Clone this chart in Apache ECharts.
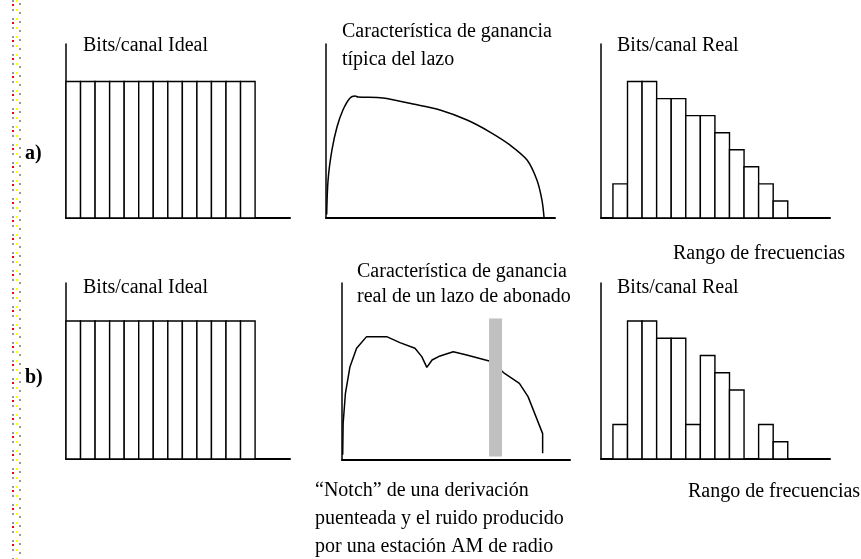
<!DOCTYPE html>
<html>
<head>
<meta charset="utf-8">
<script src="https://cdn.jsdelivr.net/npm/echarts@6/dist/echarts.min.js"></script>
<style>
  html, body { margin: 0; background: #fff; }
  #chart { width: 861px; height: 559px; }
</style>
</head>
<body>
<div id="chart"></div>
<script>
// bits per channel (arbitrary units, 8 = full)
const idealBits = [8, 8, 8, 8, 8, 8, 8, 8, 8, 8, 8, 8, 8];
const realBitsA = [2, 8, 8, 7, 7, 6, 6, 5, 4, 3, 2, 1];
const realBitsB = [2, 8, 8, 7, 7, 2, 6, 5, 4, 0, 2, 1];

// loop gain curves: [frequency %, gain %]
const gainTypical = [
  [0.3, 2], [0.9, 21.8], [2.6, 39.1], [4.8, 52.3], [7.4, 62.1], [10.5, 69],
  [12.7, 70.1], [14, 69.5], [24.9, 69], [38, 65.5], [49.8, 62.1], [61.6, 56.3],
  [71.6, 49.4], [80.3, 42], [87.8, 33.3], [92.1, 21.8], [94.3, 10.3], [95.2, 0.6]
];
const gainReal = [
  [0.3, 3], [0.5, 20.7], [1.5, 37.7], [3.5, 52.7], [6.4, 63.1], [10.8, 69.7],
  [19.6, 69.7], [25.4, 66.3], [32, 63.1], [35, 58.4], [37.2, 52.3], [39.5, 56.5],
  [43, 58.8], [48.8, 61.2], [54.7, 59.3], [65.4, 55.6], [71.3, 48.9], [77.8, 43.3],
  [81.6, 35.8], [88, 14.9], [88, 3.8]
];
// notch: [from %, to %, bottom, top]
const notchBand = [[64.5, 70.2, 2, 80]];

const chart = echarts.init(document.getElementById('chart'));

const serif = 'Liberation Serif';

const grids = [
  { left: 66, top: 44, width: 224, height: 174 },
  { left: 326, top: 44, width: 229, height: 174 },
  { left: 601, top: 44, width: 229, height: 174 },
  { left: 66, top: 283, width: 224, height: 176 },
  { left: 342, top: 283, width: 228, height: 177 },
  { left: 601, top: 283, width: 229, height: 176 }
];

const hide = {
  axisTick: { show: false },
  axisLabel: { show: false },
  splitLine: { show: false }
};

// x ranges per panel (bar panels in bar-width units)
const xRanges = [[0, 15.4], [0, 100], [-0.82, 14.9], [0, 15.4], [0, 100], [-0.82, 14.9]];
const yMax = [10.2, 100, 10.2, 10.2, 100, 10.2];

const xAxis = xRanges.map((r, i) => ({
  gridIndex: i, type: 'value', min: r[0], max: r[1], ...hide,
  axisLine: { show: true, onZero: false, lineStyle: { color: '#000', width: 2 } }
}));
const yAxis = yMax.map((m, i) => ({
  gridIndex: i, type: 'value', min: 0, max: m, ...hide,
  axisLine: { show: true, onZero: false, lineStyle: { color: '#000', width: 1.5 } }
}));

const barItem = (params, api) => {
  const i = api.value(0);
  const v = api.value(1);
  if (!v) return null;
  const p0 = api.coord([i, v]);
  const p1 = api.coord([i + 1, 0]);
  return {
    type: 'rect',
    shape: { x: p0[0], y: p0[1], width: p1[0] - p0[0], height: p1[1] - p0[1] },
    style: { fill: '#fff', stroke: '#000', lineWidth: 1.4 }
  };
};

const barSeries = (data, idx) => ({
  type: 'custom',
  xAxisIndex: idx,
  yAxisIndex: idx,
  renderItem: barItem,
  encode: { x: 0, y: 1 },
  silent: true,
  data: data.map((v, i) => [i, v])
});

const lineSeries = (data, idx, smooth) => ({
  type: 'line',
  xAxisIndex: idx,
  yAxisIndex: idx,
  data: data,
  smooth: smooth,
  symbol: 'none',
  silent: true,
  lineStyle: { color: '#000', width: 1.5 }
});

const text = (x, y, str, lh, extra) => ({
  type: 'text',
  left: x,
  top: y,
  style: { text: str, fill: '#000', font: '20px ' + serif, lineHeight: lh || 27, ...extra }
});

const option = {
  backgroundColor: '#fff',
  animation: false,
  grid: grids,
  xAxis: xAxis,
  yAxis: yAxis,
  series: [
    barSeries(idealBits, 0),
    lineSeries(gainTypical, 1, 0.3),
    barSeries(realBitsA, 2),
    barSeries(idealBits, 3),
    lineSeries(gainReal, 4, false),
    {
      type: 'custom',
      xAxisIndex: 4,
      yAxisIndex: 4,
      z: 5,
      silent: true,
      encode: { x: [0, 1], y: [2, 3] },
      renderItem: (params, api) => {
        const p0 = api.coord([api.value(0), api.value(3)]);
        const p1 = api.coord([api.value(1), api.value(2)]);
        return {
          type: 'rect',
          shape: { x: p0[0], y: p0[1], width: p1[0] - p0[0], height: p1[1] - p0[1] },
          style: { fill: '#c0c0c0' }
        };
      },
      data: notchBand
    },
    barSeries(realBitsB, 5)
  ],
  graphic: [
    // dotted page border on the left
    { type: 'line', shape: { x1: 13, y1: 0, x2: 13, y2: 559 }, style: { stroke: '#999', lineWidth: 2, lineDash: [2, 7] } },
    { type: 'line', shape: { x1: 13, y1: 4, x2: 13, y2: 559 }, style: { stroke: '#f00', lineWidth: 2, lineDash: [2, 16] } },
    { type: 'line', shape: { x1: 20, y1: 3, x2: 20, y2: 559 }, style: { stroke: '#999', lineWidth: 2, lineDash: [2, 7] } },
    { type: 'line', shape: { x1: 17, y1: 0, x2: 17, y2: 559 }, style: { stroke: '#ff0', lineWidth: 2, lineDash: [2, 7] } },

    text(83, 32, 'Bits/canal Ideal'),
    text(342, 18, 'Característica de ganancia\ntípica del lazo', 28),
    text(617, 32, 'Bits/canal Real'),
    text(673, 240, 'Rango de frecuencias'),
    text(25, 140, 'a)', 27, { font: 'bold 20px ' + serif }),

    text(83, 274, 'Bits/canal Ideal'),
    text(357, 259, 'Característica de ganancia\nreal de un lazo de abonado', 25),
    text(617, 274, 'Bits/canal Real'),
    text(688, 478, 'Rango de frecuencias'),
    text(25, 364, 'b)', 27, { font: 'bold 20px ' + serif }),

    text(315, 477, '\u201cNotch\u201d de una derivación\npuenteada y el ruido producido\npor una estación AM de radio', 28)
  ]
};

chart.setOption(option);
</script>
</body>
</html>
